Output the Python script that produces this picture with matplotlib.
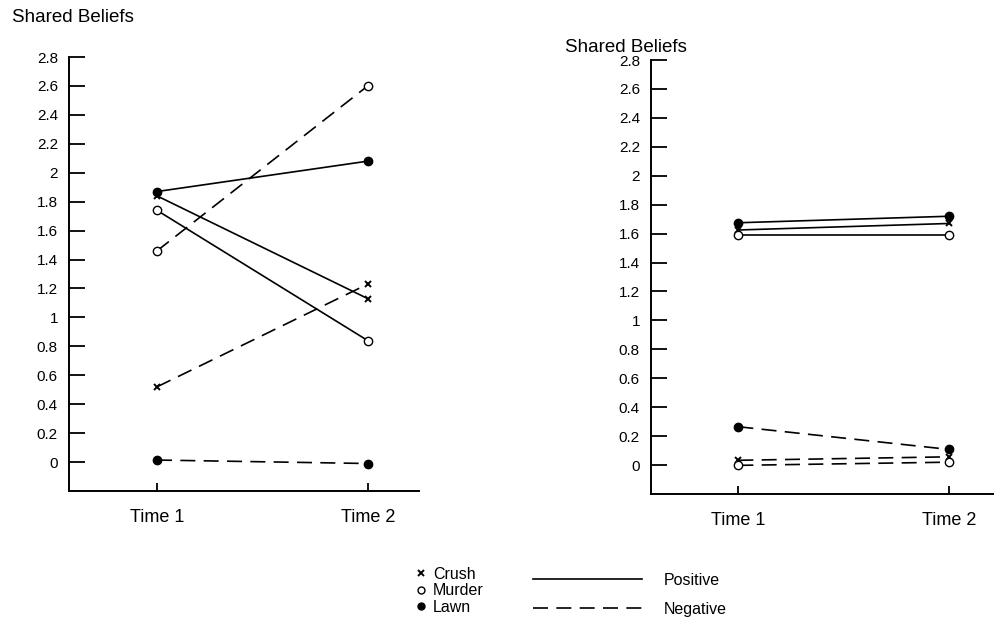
import matplotlib
matplotlib.use("Agg")
import matplotlib.pyplot as plt
from matplotlib.lines import Line2D

plt.rcParams['font.family'] = ['Liberation Sans', 'DejaVu Sans']

times = ['Time 1', 'Time 2']
stories = ['Crush', 'Murder', 'Lawn']
markers = {'Crush': 'x', 'Murder': 'o', 'Lawn': 'o'}
fills = {'Crush': 'black', 'Murder': 'white', 'Lawn': 'black'}

# left panel: story -> [time 1, time 2]
left_pos = {'Crush': [1.84, 1.13], 'Murder': [1.74, 0.84], 'Lawn': [1.87, 2.08]}
left_neg = {'Crush': [0.52, 1.23], 'Murder': [1.46, 2.60], 'Lawn': [0.014, -0.01]}

# right panel
right_pos = {'Crush': [1.625, 1.67], 'Murder': [1.59, 1.59], 'Lawn': [1.675, 1.72]}
right_neg = {'Crush': [0.033, 0.057], 'Murder': [-0.002, 0.02], 'Lawn': [0.265, 0.108]}

yticks = [0, 0.2, 0.4, 0.6, 0.8, 1, 1.2, 1.4, 1.6, 1.8, 2, 2.2, 2.4, 2.6, 2.8]
ytick_labels = ['%g' % v for v in yticks]

W, H = 994, 617
fig = plt.figure(figsize=(W / 100, H / 100), dpi=100)

dash = (0, (9, 5))
lw = 1.2


def draw_panel(rect, xlim, pos, neg, title_xy):
    l, t, r, b = rect
    ax = fig.add_axes([l / W, 1 - b / H, (r - l) / W, (b - t) / H])
    for data, ls in ((pos, '-'), (neg, dash)):
        for s in stories:
            ms = 6 if markers[s] == 'o' else 5
            ax.plot([0, 1], data[s], color='black', lw=lw, linestyle=ls,
                    marker=markers[s], ms=ms, mfc=fills[s], mec='black',
                    mew=1.4 if markers[s] == 'x' else 1.0, zorder=3, clip_on=False)
    ax.set_xlim(*xlim)
    ax.set_ylim(-0.2, 2.8)
    ax.set_yticks(yticks)
    ax.set_yticklabels(ytick_labels, fontsize=11)
    ax.set_xticks([0, 1])
    ax.set_xticklabels(times, fontsize=13)
    ax.tick_params(axis='y', direction='in', length=11.5, width=1.3, pad=8)
    ax.tick_params(axis='x', direction='in', length=6, width=1.3, pad=13)
    for sp in ('top', 'right'):
        ax.spines[sp].set_visible(False)
    for sp in ('left', 'bottom'):
        ax.spines[sp].set_linewidth(1.4)
    fig.text(title_xy[0] / W, 1 - title_xy[1] / H, 'Shared Beliefs',
             fontsize=13.5, ha='left', va='center')
    return ax


draw_panel((69, 57, 419, 491), (-0.4177, 1.2435), left_pos, left_neg, (12, 18))
draw_panel((651, 60, 994, 494), (-0.414, 1.212), right_pos, right_neg, (565, 47))

# legends
story_handles = [Line2D([], [], linestyle='none', marker=markers[s],
                        ms=5 if markers[s] == 'o' else 4, mfc=fills[s], mec='black',
                        mew=1.4 if markers[s] == 'x' else 1.0) for s in stories]
leg1 = fig.legend(story_handles, stories, loc='upper left',
                  bbox_to_anchor=(416 / W, 1 - 567 / H), frameon=False,
                  fontsize=11.5, handlelength=0.6, handletextpad=0.45,
                  labelspacing=0.08, borderpad=0, borderaxespad=0)

valence_handles = [Line2D([], [], color='black', lw=1.2, linestyle='-'),
                   Line2D([], [], color='black', lw=1.2, linestyle=(0, (9, 5)))]
leg2 = fig.legend(valence_handles, ['Positive', 'Negative'], loc='upper left',
                  bbox_to_anchor=(533 / W, 1 - 573 / H), frameon=False,
                  fontsize=11.5, handlelength=6.8, handletextpad=1.4,
                  labelspacing=0.85, borderpad=0, borderaxespad=0)

fig.savefig('out.png', dpi=100)
